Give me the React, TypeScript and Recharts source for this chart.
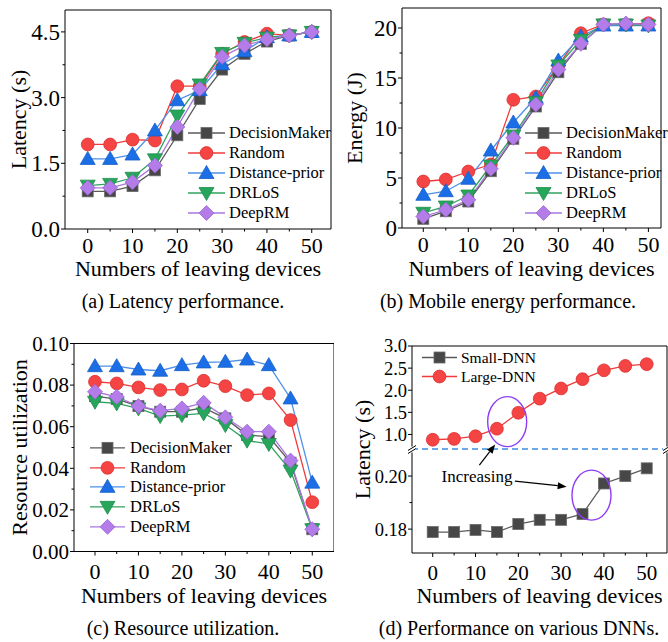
import React from "react";
import { LineChart, Line, XAxis, YAxis, ReferenceLine, ReferenceDot } from "recharts";

const FONT = '"Liberation Serif", "Times New Roman", serif';

const devices = [0, 5, 10, 15, 20, 25, 30, 35, 40, 45, 50];
const xTicks = [0, 5, 10, 15, 20, 25, 30, 35, 40, 45, 50];

// (a) latency (s)
const latDecisionMaker = [0.86, 0.86, 0.98, 1.34, 2.14, 2.97, 3.64, 4.0, 4.28, 4.42, 4.5];
const latRandom = [1.93, 1.93, 2.04, 2.02, 3.26, 3.26, 4.0, 4.27, 4.46, 4.42, 4.5];
const latDistance = [1.6, 1.6, 1.7, 2.25, 2.94, 3.17, 3.76, 4.06, 4.38, 4.42, 4.5];
const latDRLoS = [0.99, 1.03, 1.17, 1.59, 2.59, 3.3, 4.02, 4.25, 4.37, 4.42, 4.5];
const latDeepRM = [0.94, 0.94, 1.07, 1.45, 2.33, 3.2, 3.93, 4.19, 4.33, 4.42, 4.5];

// (b) mobile energy (J)
const engDecisionMaker = [0.92, 1.68, 2.65, 5.68, 8.92, 12.15, 15.58, 18.42, 20.35, 20.35, 20.35];
const engRandom = [4.65, 4.85, 5.65, 6.35, 12.82, 13.15, 16.25, 19.48, 20.35, 20.35, 20.48];
const engDistance = [3.32, 3.68, 4.92, 7.75, 10.55, 13.02, 16.75, 19.15, 20.25, 20.25, 20.25];
const engDRLoS = [1.52, 2.15, 3.25, 6.25, 9.25, 12.58, 16.25, 18.82, 20.35, 20.35, 20.25];
const engDeepRM = [1.15, 1.82, 2.82, 5.92, 9.02, 12.35, 15.85, 18.42, 20.35, 20.45, 20.35];

// (c) resource utilization
const utlDecisionMaker = [0.0747, 0.0733, 0.0699, 0.0672, 0.0672, 0.0691, 0.064, 0.056, 0.0552, 0.0427, 0.0107];
const utlRandom = [0.0816, 0.0808, 0.0789, 0.0776, 0.0779, 0.0821, 0.0795, 0.0752, 0.076, 0.0632, 0.0237];
const utlDistance = [0.0891, 0.0891, 0.0875, 0.0869, 0.0896, 0.0909, 0.0912, 0.0923, 0.0896, 0.0736, 0.0331];
const utlDRLoS = [0.072, 0.0712, 0.0688, 0.0651, 0.0656, 0.0664, 0.0608, 0.0533, 0.0517, 0.0389, 0.0107];
const utlDeepRM = [0.0768, 0.0744, 0.0699, 0.0677, 0.0688, 0.0715, 0.0645, 0.0576, 0.0576, 0.0437, 0.0107];

// (d) latency of DNNs (s), broken axis
const smallDnn = [0.1789, 0.1789, 0.1797, 0.1789, 0.1819, 0.1835, 0.1835, 0.1857, 0.1972, 0.2, 0.2029];
const largeDnn = [0.88, 0.9, 0.96, 1.13, 1.49, 1.81, 2.04, 2.25, 2.45, 2.55, 2.59];
const dnnTicks = [0.18, 0.19, 0.2, 1.0, 1.5, 2.0, 2.5, 3.0];
const dnnMajor = ["0.18", "", "0.20", "1.0", "1.5", "2.0", "2.5", "3.0"];

const LOW = [0.171, 0.21];
const HIGH = [0.66, 3.0];
const brk = (v: number) =>
  v < 0.5 ? (v - LOW[0]) / (LOW[1] - LOW[0]) : 1 + (v - HIGH[0]) / (HIGH[1] - HIGH[0]);

const methods = [
  { key: "dm", name: "DecisionMaker", line: "#5a5a5a", fill: "#474747", edge: "#6a6a6a", shape: "square" },
  { key: "rnd", name: "Random", line: "#f03a3a", fill: "#f44444", edge: "#dd2e2e", shape: "circle" },
  { key: "dist", name: "Distance-prior", line: "#4d90e8", fill: "#1c6ee6", edge: "#1560c8", shape: "up" },
  { key: "drl", name: "DRLoS", line: "#2fa35f", fill: "#27a55a", edge: "#1e8f4c", shape: "down" },
  { key: "deep", name: "DeepRM", line: "#a877e0", fill: "#b47ce8", edge: "#9a66d6", shape: "diamond" },
];

const dnnSeries = [
  { key: "small", name: "Small-DNN", line: "#5a5a5a", fill: "#474747", edge: "#6a6a6a", shape: "square" },
  { key: "large", name: "Large-DNN", line: "#f03a3a", fill: "#f44444", edge: "#dd2e2e", shape: "circle" },
];

function table(cols: number[][]) {
  return devices.map((x, i) => {
    const r: any = { x };
    cols.forEach((c, j) => (r[methods[j].key] = c[i]));
    return r;
  });
}

function Marker({ shape, cx, cy, fill, edge }: any) {
  if (cx == null || cy == null) return null;
  const common = { fill, stroke: edge, strokeWidth: 0.8 };
  switch (shape) {
    case "square":
      return <rect x={cx - 5.5} y={cy - 5.5} width={11} height={11} {...common} />;
    case "circle":
      return <circle cx={cx} cy={cy} r={6.4} {...common} />;
    case "up":
      return <polygon points={`${cx},${cy - 7.5} ${cx + 7.5},${cy + 5.5} ${cx - 7.5},${cy + 5.5}`} {...common} />;
    case "down":
      return <polygon points={`${cx},${cy + 7.5} ${cx + 7.5},${cy - 5.5} ${cx - 7.5},${cy - 5.5}`} {...common} />;
    default:
      return <polygon points={`${cx},${cy - 7.5} ${cx + 7.5},${cy} ${cx},${cy + 7.5} ${cx - 7.5},${cy}`} {...common} />;
  }
}

function XTick({ x, y, payload, fontSize, drop }: any) {
  const v = payload.value;
  const big = v % 10 === 0;
  return (
    <g>
      <line x1={x} y1={y} x2={x} y2={y + (big ? 4 : 2.5)} stroke="#000" />
      {big && (
        <text x={x} y={y + drop} textAnchor="middle" fill="#000" style={{ fontFamily: FONT, fontSize }}>
          {v}
        </text>
      )}
    </g>
  );
}

function YTick({ x, y, payload, label, fontSize }: any) {
  const txt = label(payload.value);
  return (
    <g>
      <line x1={x - (txt ? 4 : 2.5)} y1={y} x2={x} y2={y} stroke="#000" />
      {txt && (
        <text x={x - 5} y={y} dy="0.35em" textAnchor="end" fill="#000" style={{ fontFamily: FONT, fontSize }}>
          {txt}
        </text>
      )}
    </g>
  );
}

function Key({ items, left, top, lineW, rowH, gap, fontSize }: any) {
  return (
    <div style={{ position: "absolute", left, top }}>
      {items.map((s: any) => (
        <div key={s.name} style={{ display: "flex", alignItems: "center", height: rowH }}>
          <svg width={lineW} height={rowH} style={{ display: "block" }}>
            <line x1={0} x2={lineW} y1={rowH / 2} y2={rowH / 2} stroke={s.line} strokeWidth={1.4} />
            <Marker shape={s.shape} cx={lineW / 2} cy={rowH / 2} fill={s.fill} edge={s.edge} />
          </svg>
          <span style={{ marginLeft: gap, fontSize, lineHeight: `${rowH}px`, whiteSpace: "nowrap", color: "#000" }}>
            {s.name}
          </span>
        </div>
      ))}
    </div>
  );
}

// axis titles drawn by hand so the serif face sticks
const xTitle = (offset: number) => (p: any) => {
  const vb = p && p.viewBox;
  if (!vb) return null;
  return (
    <text x={vb.x + vb.width / 2} y={vb.y + vb.height - offset} textAnchor="middle" fill="#000" style={{ fontFamily: FONT, fontSize: 22 }}>
      Numbers of leaving devices
    </text>
  );
};

const yTitle = (value: string, offset: number) => (p: any) => {
  const vb = p && p.viewBox;
  if (!vb) return null;
  const cx = vb.x + offset;
  const cy = vb.y + vb.height / 2;
  return (
    <text x={cx} y={cy} dy="0.35em" textAnchor="middle" transform={`rotate(-90, ${cx}, ${cy})`} fill="#000" style={{ fontFamily: FONT, fontSize: 22 }}>
      {value}
    </text>
  );
};

function MethodPanel({ data, w, h, top, right, yW, xH, xDomain, yDomain, yTicks, label, yFont, xFont, drop, yName, yTitleX, xTitleOff }: any) {
  return (
    <LineChart width={w} height={h} data={data} margin={{ top, right, left: 0, bottom: 0 }}>
      <XAxis
        dataKey="x"
        type="number"
        domain={xDomain}
        ticks={xTicks}
        interval={0}
        tickSize={0}
        tickMargin={0}
        tickLine={false}
        axisLine={{ stroke: "#000" }}
        height={xH}
        tick={({ x, y, payload }: any) => <XTick x={x} y={y} payload={payload} fontSize={xFont} drop={drop} />}
        label={xTitle(xTitleOff)}
      />
      <YAxis
        type="number"
        domain={yDomain}
        ticks={yTicks}
        interval={0}
        tickSize={0}
        tickMargin={0}
        tickLine={false}
        axisLine={{ stroke: "#000" }}
        width={yW}
        tick={({ x, y, payload }: any) => <YTick x={x} y={y} payload={payload} label={label} fontSize={yFont} />}
        label={yTitle(yName, yTitleX)}
      />
      <ReferenceLine y={yDomain[1]} stroke="#000" />
      <ReferenceLine x={xDomain[1]} stroke="#000" />
      {methods.map((s) => (
        <Line
          key={s.key}
          dataKey={s.key}
          name={s.name}
          type="linear"
          stroke={s.line}
          strokeWidth={1.3}
          dot={(p: any) => <Marker key={`${s.key}-${p.index}`} shape={s.shape} cx={p.cx} cy={p.cy} fill={s.fill} edge={s.edge} />}
          activeDot={false}
          isAnimationActive={false}
        />
      ))}
    </LineChart>
  );
}

const near = (a: number, b: number) => Math.abs(a - b) < 1e-6;

const BreakMark = ({ cx, cy }: any) => (
  <g>
    <rect x={cx - 4} y={cy - 3} width={8} height={6} fill="#fff" />
    <line x1={cx - 4} y1={cy + 1} x2={cx + 4} y2={cy - 4} stroke="#000" />
    <line x1={cx - 4} y1={cy + 4} x2={cx + 4} y2={cy - 1} stroke="#000" />
  </g>
);

const Ring = ({ cx, cy }: any) => <ellipse cx={cx} cy={cy} rx={19.5} ry={25} fill="none" stroke="#8f3cf5" strokeWidth={1.4} />;

const Note = ({ cx, cy }: any) => (
  <text x={cx} y={cy} dy="0.35em" textAnchor="middle" fill="#000" style={{ fontFamily: FONT, fontSize: 17 }}>
    Increasing
  </text>
);

const Arrow = ({ x1, y1, x2, y2 }: any) => {
  const a = Math.atan2(y2 - y1, x2 - x1);
  const bx = x2 - 9 * Math.cos(a);
  const by = y2 - 9 * Math.sin(a);
  const px = -Math.sin(a) * 3.5;
  const py = Math.cos(a) * 3.5;
  return (
    <g>
      <line x1={x1} y1={y1} x2={bx} y2={by} stroke="#000" strokeWidth={1.2} />
      <polygon points={`${x2},${y2} ${bx + px},${by + py} ${bx - px},${by - py}`} fill="#000" />
    </g>
  );
};

function DnnPanel() {
  const data = devices.map((x, i) => ({ x, small: brk(smallDnn[i]), large: brk(largeDnn[i]) }));
  const xDomain = [-4.84, 54.74];
  const label = (v: number) => {
    const i = dnnTicks.findIndex((t) => near(brk(t), v));
    return i >= 0 ? dnnMajor[i] : "";
  };
  return (
    <LineChart width={334} height={322} data={data} margin={{ top: 26, right: 1, left: 0, bottom: 0 }}>
      <XAxis
        dataKey="x"
        type="number"
        domain={xDomain}
        ticks={xTicks}
        interval={0}
        tickSize={0}
        tickMargin={0}
        tickLine={false}
        axisLine={{ stroke: "#000" }}
        height={89}
        tick={({ x, y, payload }: any) => <XTick x={x} y={y} payload={payload} fontSize={21} drop={27} />}
        label={xTitle(39)}
      />
      <YAxis
        type="number"
        domain={[0, 2]}
        ticks={dnnTicks.map(brk)}
        interval={0}
        tickSize={0}
        tickMargin={0}
        tickLine={false}
        axisLine={{ stroke: "#000" }}
        width={78}
        tick={({ x, y, payload }: any) => <YTick x={x} y={y} payload={payload} label={label} fontSize={18.5} />}
        label={yTitle("Latency (s)", 28)}
      />
      <ReferenceLine y={2} stroke="#000" />
      <ReferenceLine x={xDomain[1]} stroke="#000" />
      <ReferenceLine y={1.005} stroke="#3b8ee0" strokeDasharray="6 4" strokeWidth={1.5} />
      <ReferenceDot x={xDomain[0]} y={1} r={0} shape={BreakMark} />
      <ReferenceDot x={xDomain[1]} y={1} r={0} shape={BreakMark} />
      {dnnSeries.map((s) => (
        <Line
          key={s.key}
          dataKey={s.key}
          name={s.name}
          type="linear"
          stroke={s.line}
          strokeWidth={1.3}
          dot={(p: any) => <Marker key={`${s.key}-${p.index}`} shape={s.shape} cx={p.cx} cy={p.cy} fill={s.fill} edge={s.edge} />}
          activeDot={false}
          isAnimationActive={false}
        />
      ))}
      <ReferenceDot x={17.4} y={brk(1.29)} r={0} shape={Ring} />
      <ReferenceDot x={37.1} y={brk(0.1928)} r={0} shape={Ring} />
      <ReferenceDot x={10.35} y={brk(0.1999)} r={0} shape={Note} />
      <ReferenceLine segment={[{ x: 10.9, y: brk(0.2041) }, { x: 14.6, y: brk(0.774) }]} shape={Arrow} />
      <ReferenceLine segment={[{ x: 19.2, y: brk(0.1981) }, { x: 31.3, y: brk(0.196) }]} shape={Arrow} />
    </LineChart>
  );
}

const caption = (text: string, cx: number, cy: number) => (
  <div style={{ position: "absolute", left: cx - 200, width: 400, top: cy - 13, lineHeight: "26px", textAlign: "center", fontSize: 20 }}>
    {text}
  </div>
);

export default function App() {
  const latTicks = [0, 0.75, 1.5, 2.25, 3, 3.75, 4.5];
  const engTicks = [0, 2.5, 5, 7.5, 10, 12.5, 15, 17.5, 20];
  const utlTicks = [0, 1, 2, 3, 4, 5, 6, 7, 8, 9, 10].map((i) => i / 100);
  return (
    <div style={{ position: "absolute", left: 0, top: 0, width: 668, height: 642, background: "#fff", fontFamily: FONT, color: "#000", overflow: "hidden" }}>
      <div style={{ position: "absolute", left: 0, top: 0 }}>
        <MethodPanel
          data={table([latDecisionMaker, latRandom, latDistance, latDRLoS, latDeepRM])}
          w={334} h={285} top={10} right={3} yW={65} xH={56}
          xDomain={[-5.07, 54.3]} yDomain={[0, 5]} yTicks={latTicks}
          label={(v: number) => (near(v / 1.5, Math.round(v / 1.5)) ? v.toFixed(1) : "")}
          yFont={23} xFont={22} drop={24} yName="Latency (s)" yTitleX={18} xTitleOff={9}
        />
      </div>
      <div style={{ position: "absolute", left: 334, top: 0 }}>
        <MethodPanel
          data={table([engDecisionMaker, engRandom, engDistance, engDRLoS, engDeepRM])}
          w={334} h={285} top={8} right={7} yW={68} xH={57}
          xDomain={[-4.73, 52.8]} yDomain={[0, 22]} yTicks={engTicks}
          label={(v: number) => (v % 5 === 0 ? String(v) : "")}
          yFont={23} xFont={22} drop={24} yName="Energy (J)" yTitleX={20} xTitleOff={9}
        />
      </div>
      <div style={{ position: "absolute", left: 0, top: 320 }}>
        <MethodPanel
          data={table([utlDecisionMaker, utlRandom, utlDistance, utlDRLoS, utlDeepRM])}
          w={334} h={322} top={23.5} right={0} yW={74} xH={90.5}
          xDomain={[-4.83, 55]} yDomain={[0, 0.1]} yTicks={utlTicks}
          label={(v: number) => (Math.round(v * 100) % 2 === 0 ? v.toFixed(2) : "")}
          yFont={21} xFont={22} drop={27} yName="Resource utilization" yTitleX={19} xTitleOff={39}
        />
      </div>
      <div style={{ position: "absolute", left: 334, top: 320 }}>
        <DnnPanel />
      </div>
      <Key items={methods} left={188} top={123} lineW={37} rowH={20} gap={4} fontSize={16.5} />
      <Key items={methods} left={525} top={123} lineW={37} rowH={20} gap={4} fontSize={16.5} />
      <Key items={methods} left={90} top={438} lineW={35} rowH={19.7} gap={5} fontSize={16.5} />
      <Key items={dnnSeries} left={422} top={348} lineW={35} rowH={19} gap={4} fontSize={15.5} />
      {caption("(a) Latency performance.", 183, 301)}
      {caption("(b) Mobile energy performance.", 508, 301)}
      {caption("(c) Resource utilization.", 183, 628)}
      {caption("(d) Performance on various DNNs.", 519, 628)}
    </div>
  );
}
